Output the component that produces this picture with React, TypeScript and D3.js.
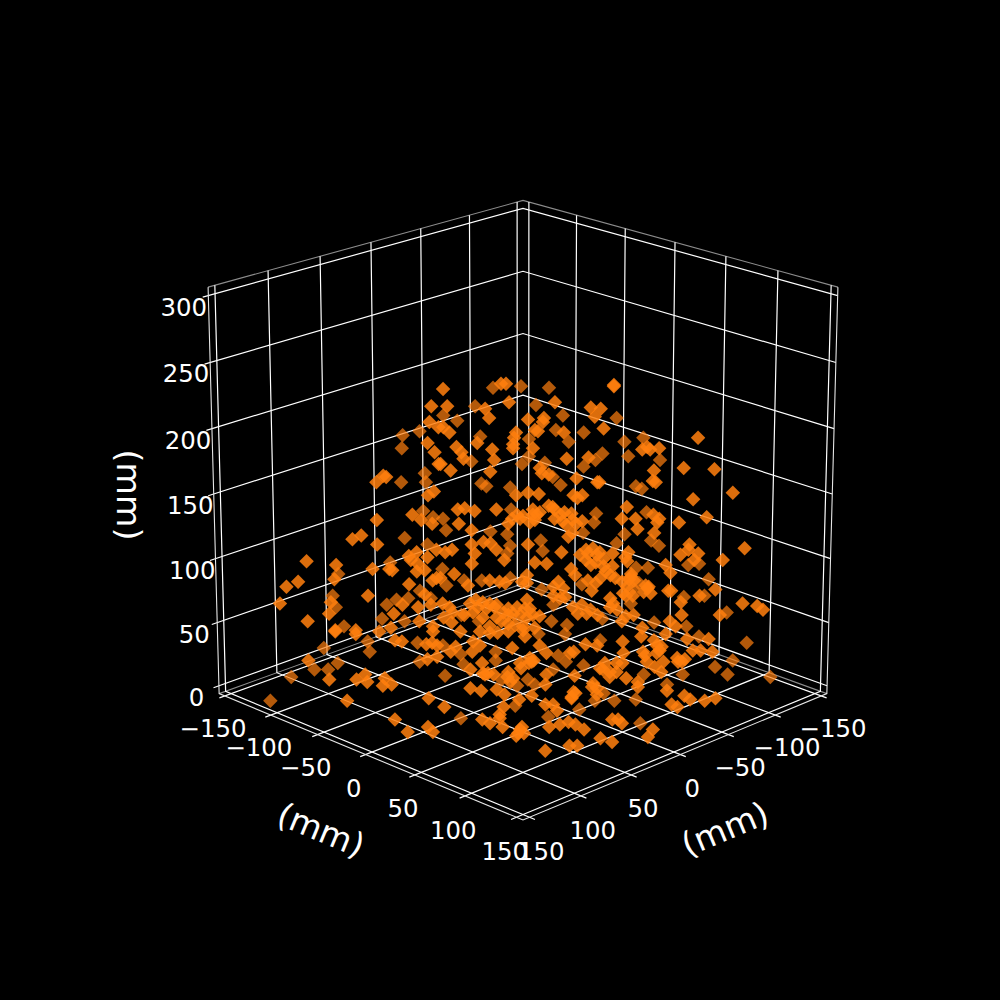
import * as d3 from 'd3';
import React from 'react';

// scatter points as [across, height] in mm. Depth can't be read off a flat picture, so
// points sit on the diagonal plane x = -y that faces the camera (so low front points go below 0).
const farPoints: [number, number][] = [
  [-61, 185], [-52, 198], [-60.5, 195], [-49.5, 166], [-49, 159], [-61.5, 159], [-1, 232], [6.5, 218], [-24, 217], [-33, 206],
  [-40, 210], [20, 210], [30.5, 197], [23, 190], [16.5, 199], [-21.5, 194], [3, 192], [3, 179], [-0.5, 173], [-26, 175],
  [30.5, 171], [36.5, 176], [40, 181], [19, 157], [-6.5, 155], [11, 174], [15, 163], [-21, 158], [-18.5, 156], [13, 231],
  [47, 208], [-15, 231], [51, 190], [60.5, 193], [53, 179], [69, 176], [57, 156], [60, 154], [-60, 116], [-48.5, 111],
  [-97, 71], [-95.5, 62], [-69.5, 64], [-64.5, 68], [-58.5, 69], [-52.5, 75], [-47, 69], [-91.5, 47], [-72, 53], [-60.5, 51],
  [-94, 88], [-67.5, 97], [-45.5, 132], [-50.5, 137], [-39, 122], [-40.5, 131], [-8, 119], [-6, 138], [-6.5, 110], [-8, 104],
  [9, 114], [10, 106], [37, 135], [36, 128], [30.5, 120], [47.5, 112], [-16.5, 121], [-41, 92], [-39, 79], [-30, 83],
  [-21, 83], [-6.5, 85], [30, 80], [9.5, 76], [15.5, 64], [22.5, 48], [14.5, 51], [40.5, 53], [-31.5, 56], [-22.5, 51],
  [62.5, 136], [51.5, 119], [65, 114], [69, 110], [57.5, 93], [63.5, 93], [59, 81], [55, 65], [56, 77], [92.5, 71],
  [104, 58], [67, 50], [83.5, 47], [94.5, 84], [82, 70], [84, 95], [89.5, 96], [-79.5, 35], [-102, 30], [-54, 34],
  [-53, 19], [-119, 7], [-130, -12], [-107, 13], [-100, 13], [-95, 18], [-78.5, 27], [-41, 32], [-32, 25], [-30.5, 17],
  [-14, 27], [-14, 20], [18, 24], [8, 41], [21.5, 41], [31, 16], [22, 19], [15.5, 13], [2.5, 5], [6, 1],
  [-3, 0], [-40, 8], [-11, 5], [-4, -16], [47, -12], [37, -12], [41.5, -6], [39.5, 36], [29, -19], [13, -25],
  [-32, -26], [114.5, 34], [90, 39], [98.5, 15], [105, 9], [127, 7], [62, 9], [82, 9], [58, -11], [74, 1],
  [107.5, 20], [60.5, -30],
];

const nearPoints: [number, number][] = [
  [-46, 217], [-47, 205], [-40, 230], [-48, 189], [-44.5, 182], [-42.5, 201], [-42.5, 173], [-74, 159], [-70.5, 164], [-69, 163],
  [-45, 152], [-48, 149], [-38, 217], [-40, 201], [-37, 197], [-19, 215], [-17, 208], [-11, 234], [-8.5, 234], [-7, 220],
  [16, 220], [2.5, 207], [10.5, 208], [10, 205], [6, 199], [7.5, 198], [34, 216], [39, 215], [36, 209], [45.5, 232],
  [45.5, 233], [40.5, 200], [20.5, 197], [-3.5, 197], [-4.5, 193], [-5, 188], [-5, 185], [5, 185], [-23, 189], [-33.5, 186],
  [-31, 182], [-30, 177], [-15.5, 184], [-14.5, 176], [-41.5, 173], [-36.5, 168], [-16.5, 167], [8.5, 170], [9.5, 166], [13, 165],
  [22, 177], [33, 178], [27, 162], [37.5, 159], [38.5, 159], [-3.5, 149], [2.5, 151], [8, 150], [25.5, 149], [30, 149],
  [27.5, 147], [60, 184], [64, 184], [62.5, 186], [68.5, 185], [66, 168], [65.5, 160], [67, 159], [88, 193], [81, 170],
  [96.5, 169], [106, 151], [86, 146], [-74, 130], [-82, 118], [-86.5, 115], [-74, 111], [-56, 134], [-51.5, 130], [-46, 127],
  [-110, 98], [-95, 95], [-96, 84], [-76.5, 92], [-68, 92], [-66.5, 91], [-58, 102], [-54, 105], [-57, 99], [-53.5, 96],
  [-48.5, 101], [-50, 91], [-54, 90], [-44, 107], [-44, 85], [-46, 83], [-58, 80], [-114.5, 82], [-120.5, 78], [-124, 65],
  [-98, 66], [-99, 57], [-79, 71], [-50, 72], [-61.5, 64], [-53.5, 62], [-47, 64], [-66, 57], [-110, 51], [-53, 51],
  [-96, 44], [-67.5, 46], [-46, 47], [-85.5, 44], [-32.5, 127], [-33, 138], [-29.5, 139], [-24.5, 137], [-13.5, 138], [-3, 134],
  [0, 133], [-7.5, 127], [5, 138], [7, 134], [6, 130], [13, 141], [15, 140], [16, 131], [19, 134], [22, 126],
  [23, 117], [27, 127], [30, 129], [24.5, 135], [2.5, 111], [19.5, 105], [-26, 122], [-20, 113], [-16.5, 112], [-13.5, 107],
  [-9.5, 99], [-39.5, 105], [-36, 107], [-26, 111], [-24.5, 104], [-26, 96], [6, 97], [12, 96], [32, 107], [35.5, 108],
  [32, 99], [37.5, 103], [41, 100], [37, 97], [45.5, 104], [24.5, 92], [26.5, 87], [-35, 88], [-42, 85], [-28, 79],
  [-17, 83], [-12, 82], [-9, 81], [2, 87], [-0.5, 82], [2, 81], [18, 82], [20.5, 77], [21.5, 70], [15.5, 71],
  [35, 75], [37, 81], [42, 90], [45.5, 94], [44.5, 87], [47, 85], [44.5, 69], [46, 65], [-24, 68], [-20.5, 66],
  [-17, 65], [-13.5, 64], [-7.5, 61], [-11, 51], [-7.5, 56], [-3, 62], [2, 68], [3.5, 61], [30, 64], [32.5, 57],
  [-37.5, 62], [-41, 65], [-17, 47], [0, 47], [5, 56], [-1.5, 56], [8.5, 55], [52.5, 140], [57, 131], [50, 131],
  [66, 134], [69, 131], [68, 128], [58, 123], [79, 128], [93, 132], [66.5, 120], [112.5, 108], [84.5, 111], [84, 107],
  [80, 103], [89, 104], [87, 99], [101.5, 99], [53.5, 105], [53, 98], [52, 101], [72.5, 95], [75, 89], [55, 88],
  [54, 84], [50.5, 82], [98, 76], [63.5, 77], [65, 73], [61.5, 74], [74, 75], [75.5, 75], [56, 71], [52.5, 71],
  [80.5, 66], [90, 71], [112, 65], [119.5, 63], [122.5, 60], [81, 56], [100.5, 56], [56.5, 56], [52.5, 55], [75, 51],
  [78, 47], [61, 46], [50.5, 51], [-96, 43], [-85.5, 41], [-110, 20], [-99.5, 5], [-85.5, 5], [-81, 9], [-80, 3],
  [-72, 0], [-71, 6], [-67.5, 1], [-90.5, -12], [-48.5, -10], [-66, -27], [-59.5, -37], [-49, -33], [-46.5, -37], [-65.5, 36],
  [-62, 35], [-49.5, 33], [-46.5, 34], [-44, 32], [-49, 21], [-44, 23], [-73.5, 43], [-46, 43], [-34.5, 31], [-37, 27],
  [-26, 27], [-25.5, 35], [-22, 32], [-5.5, 30], [1, 39], [8.5, 32], [12, 26], [24, 26], [26.5, 8], [32, 33],
  [38, 32], [-27, 13], [-21, 18], [-19.5, 9], [-15, 9], [-7.5, 11], [-6.5, 3], [-1, 14], [3, 18], [5.5, 20],
  [12, 9], [11.5, 1], [-13.5, -3], [-9.5, -7], [-27, -2], [-21.5, -4], [4.5, -8], [-2, -11], [-10, -17], [-12, -23],
  [27, -6], [25, -10], [35.5, -1], [38, -7], [39.5, 14], [42, 18], [48, 18], [44.5, 7], [48, 11], [11.5, -15],
  [15.5, -15], [17.5, -20], [-40.5, -17], [-21, -27], [-17, -30], [-12, -26], [-10.5, -33], [-1.5, -35], [-3.5, -40], [0.5, -38],
  [13.5, -33], [19, -31], [23.5, -29], [27, -31], [31.5, -35], [46, -27], [49, -27], [40, -42], [46, -45], [24, -48],
  [28, -48], [11.5, -52], [95, 37], [84, 37], [87, 28], [91, 28], [97, 27], [60.5, 39], [51, 35], [51.5, 26],
  [61.5, 27], [62.5, 24], [71, 31], [68.5, 26], [73, 41], [67, 36], [79, 22], [83, 21], [81.5, 19], [72, 19],
  [63.5, 19], [67.5, 15], [71, 11], [51, 18], [53, 6], [59, 3], [59, -1], [74, -4], [83, -8], [86, -11],
  [76.5, -15], [79.5, -17], [93.5, -12], [99, -10], [51, -30], [67, -35], [64.5, -41],
  // dense middle of the cloud
  [-32, 43], [-22, 43], [-17, 42], [-13, 42], [-7.5, 43], [0, 44], [-27, 65], [-23, 62], [-18.5, 61], [-14.5, 62],
  [-10, 58], [-5, 57], [1, 61], [-7.5, 49], [-4, 48], [2, 54], [6, 46], [-13.5, 54], [-20.5, 54], [-25.5, 58],
  [-30, 56], [-36, 58], [-36.5, 50], [-40.5, 54], [28, 57], [34.5, 60], [38, 56], [44.5, 62], [48, 60], [25.5, 62],
  [19, 69], [15.5, 78], [33, 83], [39.5, 85], [41, 94], [34.5, 95], [29, 103], [33, 104], [39, 105], [16, 138],
  [21, 136], [20, 129], [25, 130], [25, 120], [5, 134], [8.5, 136], [-1.5, 131], [-5.5, 131], [3.5, 128], [55, 86],
  [53, 78], [51, 73], [62.5, 79], [64, 78], [56.5, 83], [-8, 7], [-5, 6], [-1.5, 18], [3.5, 22], [4.5, 19],
  [26, 27], [25, -9], [26, -5], [-2.5, -38], [-0.5, -33], [-20.5, 10], [-18, 10], [44.5, 11], [41, 13], [36, 2],
  [38, -2], [68.5, 32], [70, 28], [79.5, 19],
];

const xyTicks = [-150, -100, -50, 0, 50, 100, 150];
const zTicks = [0, 50, 100, 150, 200, 250, 300];
const axisLabel = '(mm)';

const size = 1000;
const lim = 156.25;
const zMin = -6.25;
const zMax = 306.25;
const tickOut = lim + 5.2;
const elev = (20 * Math.PI) / 180;
const camDist = 10;
const focal = 4142;
const cx = 523;
const cy = 494;

const xs = d3.scaleLinear().domain([-lim, lim]).range([-0.528, 0.528]);
const zs = d3.scaleLinear().domain([zMin, zMax]).range([-0.522, 0.522]);

// perspective camera at azim 45
const project = (x: number, y: number, z: number): [number, number] => {
  const X = xs(x);
  const Y = xs(y);
  const Z = zs(z);
  const u = (Y - X) / Math.SQRT2;
  const depth = (X + Y) / Math.SQRT2;
  const v = Z * Math.cos(elev) - depth * Math.sin(elev);
  const w = depth * Math.cos(elev) + Z * Math.sin(elev);
  const k = focal / (camDist - w);
  return [cx + k * u, cy - k * v];
};

const line3 = (pts: [number, number, number][]) =>
  d3.line()(pts.map((p) => project(p[0], p[1], p[2])))!;

const marker = d3.symbol(d3.symbolSquare, 105)()!;
const fmt = (t: number) => String(t).replace('-', '\u2212');
const font = '"DejaVu Sans", sans-serif';

const Points: React.FC<{ data: [number, number][]; opacity: number }> = ({ data, opacity }) => (
  <g fill="#ff7f0e" fillOpacity={opacity}>
    {data.map((d, i) => {
      const [px, py] = project(-d[0], d[0], d[1]);
      return <path key={i} d={marker} transform={`translate(${px},${py}) rotate(45)`} />;
    })}
  </g>
);

const App: React.FC = () => {
  const paneGray = '#8c8c8c';
  return (
    <svg
      width={size}
      height={size}
      style={{ position: 'absolute', left: 0, top: 0, background: '#000' }}
    >
      <rect width={size} height={size} fill="#000" />
      <g fill="none" stroke={paneGray} strokeWidth={1.1}>
        <path d={line3([[lim, -lim, zMax], [-lim, -lim, zMax], [-lim, lim, zMax]])} />
        <path d={line3([[lim, -lim, zMin], [-lim, -lim, zMin], [-lim, lim, zMin]])} />
      </g>
      <g fill="none" stroke="#fff" strokeWidth={1.2}>
        {xyTicks.map((t) => (
          <g key={t}>
            <path d={line3([[t, tickOut, zMin], [t, -lim, zMin], [t, -lim, zMax]])} />
            <path d={line3([[tickOut, t, zMin], [-lim, t, zMin], [-lim, t, zMax]])} />
          </g>
        ))}
        {zTicks.map((t) => (
          <path key={t} d={line3([[tickOut, -lim, t], [-lim, -lim, t], [-lim, lim, t]])} />
        ))}
      </g>
      <g fill="none" stroke="#e6e6e6" strokeWidth={1.1}>
        <path d={line3([[lim, -lim, zMax], [lim, -lim, zMin], [lim, lim, zMin], [-lim, lim, zMin], [-lim, lim, zMax]])} />
      </g>
      <Points data={farPoints} opacity={0.7} />
      <Points data={nearPoints} opacity={0.86} />
      <g fill="#fff" fontFamily={font} fontSize={24.4} textAnchor="middle" dominantBaseline="central">
        {zTicks.map((t) => {
          const [px, py] = project(lim, -lim, t);
          return (
            <text key={t} x={px - 24.5 + ((300 - t) / 300) * 2} y={py + 11.5}>
              {t}
            </text>
          );
        })}
        {xyTicks.map((t) => {
          const [lx, ly] = project(lim, t, zMin);
          const [rx, ry] = project(t, lim, zMin);
          const dx = 11.8;
          const dy = 33.5 + (1.2 * t) / 150;
          return (
            <g key={t}>
              <text x={lx - dx} y={ly + dy}>
                {fmt(t)}
              </text>
              <text x={rx + dx} y={ry + dy}>
                {fmt(t)}
              </text>
            </g>
          );
        })}
      </g>
      <g fill="#fff" fontFamily={font} fontSize={33.3} textAnchor="middle" dominantBaseline="central">
        <text transform="translate(128,495) rotate(90)">{axisLabel}</text>
        <text transform="translate(321,830) rotate(22.6)">{axisLabel}</text>
        <text transform="translate(725,829) rotate(-22.6)">{axisLabel}</text>
      </g>
    </svg>
  );
};

export default App;
